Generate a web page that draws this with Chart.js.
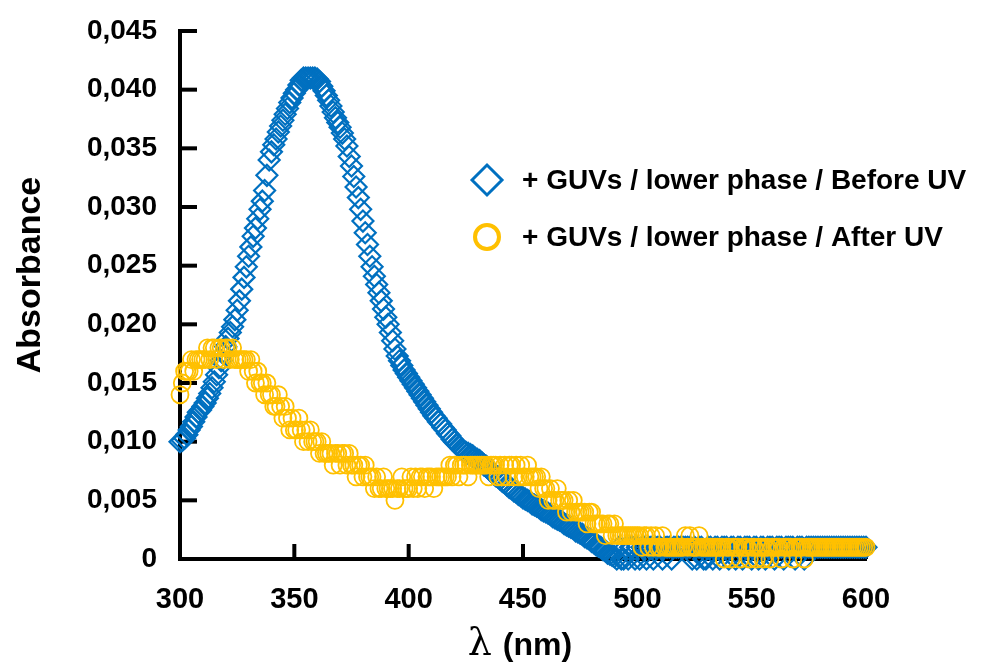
<!DOCTYPE html>
<html><head><meta charset="utf-8">
<script src="https://cdn.jsdelivr.net/npm/chart.js@4.4.1/dist/chart.umd.min.js"></script>
<style>html,body{margin:0;padding:0;background:#fff;}#wrap{width:995px;height:670px;}</style>
</head><body><div id="wrap"><canvas id="c" width="995" height="670"></canvas></div>
<script>
// ---- data ----
const wavelengths = [
300,301,302,303,304,305,306,307,308,309,310,311,312,313,314,315,316,317,318,319,
320,321,322,323,324,325,326,327,328,329,330,331,332,333,334,335,336,337,338,339,
340,341,342,343,344,345,346,347,348,349,350,351,352,353,354,355,356,357,358,359,
360,361,362,363,364,365,366,367,368,369,370,371,372,373,374,375,376,377,378,379,
380,381,382,383,384,385,386,387,388,389,390,391,392,393,394,395,396,397,398,399,
400,401,402,403,404,405,406,407,408,409,410,411,412,413,414,415,416,417,418,419,
420,421,422,423,424,425,426,427,428,429,430,431,432,433,434,435,436,437,438,439,
440,441,442,443,444,445,446,447,448,449,450,451,452,453,454,455,456,457,458,459,
460,461,462,463,464,465,466,467,468,469,470,471,472,473,474,475,476,477,478,479,
480,481,482,483,484,485,486,487,488,489,490,491,492,493,494,495,496,497,498,499,
500,501,502,503,504,505,506,507,508,509,510,511,512,513,514,515,516,517,518,519,
520,521,522,523,524,525,526,527,528,529,530,531,532,533,534,535,536,537,538,539,
540,541,542,543,544,545,546,547,548,549,550,551,552,553,554,555,556,557,558,559,
560,561,562,563,564,565,566,567,568,569,570,571,572,573,574,575,576,577,578,579,
580,581,582,583,584,585,586,587,588,589,590,591,592,593,594,595,596,597,598,599,
600];

const beforeUV = [
.0100,.0101,.0103,.0106,.0110,.0113,.0117,.0121,.0125,.0127,
.0130,.0133,.0137,.0141,.0146,.0151,.0157,.0163,.0169,.0175,
.0181,.0188,.0193,.0198,.0204,.0212,.0220,.0230,.0240,.0249,
.0258,.0266,.0275,.0282,.0290,.0298,.0305,.0314,.0327,.0340,
.0347,.0353,.0358,.0364,.0369,.0374,.0379,.0384,.0389,.0393,
.0397,.0400,.0404,.0408,.0410,.0410,.0410,.0410,.0410,.0410,
.0409,.0407,.0403,.0399,.0395,.0391,.0386,.0381,.0376,.0372,
.0368,.0363,.0358,.0352,.0343,.0335,.0326,.0317,.0308,.0298,
.0288,.0278,.0268,.0258,.0249,.0241,.0234,.0227,.0220,.0213,
.0206,.0200,.0193,.0186,.0179,.0173,.0169,.0165,.0161,.0158,
.0155,.0152,.0149,.0146,.0143,.0140,.0137,.0134,.0131,.0128,
.0125,.0122,.0120,.0117,.0115,.0112,.0110,.0107,.0105,.0102,
.0100,.0098,.0096,.0094,.0092,.0091,.0090,.0089,.0088,.0086,
.0085,.0084,.0082,.0080,.0079,.0077,.0075,.0073,.0071,.0070,
.0068,.0066,.0065,.0063,.0061,.0060,.0058,.0057,.0055,.0054,
.0052,.0051,.0050,.0049,.0047,.0046,.0045,.0044,.0042,.0041,
.0040,.0039,.0038,.0036,.0035,.0034,.0033,.0032,.0030,.0029,
.0028,.0027,.0026,.0024,.0023,.0022,.0021,.0019,.0018,.0017,
.0015,.0014,.0012,.0011,.0010,.0008,.0007,.0005,.0004,.0003,
.0002,.0000,.0010,.0000,.0000,.0010,.0000,.0010,.0010,.0000,
.0010,.0000,.0010,.0010,.0000,.0010,.0010,.0000,.0010,.0010,
.0010,.0000,.0010,.0010,.0010,.0000,.0010,.0010,.0010,.0010,
.0010,.0010,.0010,.0010,.0000,.0010,.0000,.0010,.0010,.0000,
.0000,.0010,.0010,.0000,.0010,.0010,.0000,.0010,.0010,.0010,
.0000,.0010,.0010,.0000,.0010,.0010,.0000,.0010,.0010,.0010,
.0000,.0010,.0010,.0000,.0010,.0010,.0000,.0010,.0010,.0010,
.0000,.0010,.0010,.0010,.0000,.0010,.0010,.0010,.0010,.0000,
.0010,.0010,.0010,.0000,.0010,.0010,.0010,.0010,.0010,.0010,
.0010,.0010,.0010,.0010,.0010,.0010,.0010,.0010,.0010,.0010,
.0010,.0010,.0010,.0010,.0010,.0010,.0010,.0010,.0010,.0010,
.0010];

const afterUV = [
.014,.015,.016,.016,.016,.017,.016,.017,.017,.017,
.017,.017,.018,.017,.018,.018,.017,.018,.018,.017,
.018,.018,.017,.018,.017,.017,.017,.017,.017,.017,
.016,.017,.016,.015,.016,.015,.015,.014,.015,.014,
.014,.013,.013,.014,.013,.012,.013,.012,.011,.012,
.011,.011,.012,.011,.010,.011,.010,.011,.010,.010,
.010,.009,.010,.009,.009,.009,.009,.008,.009,.009,
.008,.009,.009,.008,.009,.008,.008,.007,.008,.008,
.007,.008,.007,.007,.007,.006,.007,.006,.006,.007,
.006,.006,.006,.006,.005,.006,.006,.007,.006,.006,
.006,.007,.006,.007,.006,.007,.007,.006,.007,.007,
.007,.006,.007,.007,.007,.007,.007,.007,.008,.007,
.008,.008,.007,.008,.008,.008,.007,.008,.008,.008,
.008,.008,.008,.008,.008,.007,.008,.008,.008,.007,
.008,.007,.008,.007,.008,.008,.007,.008,.007,.008,
.007,.007,.008,.007,.007,.007,.007,.006,.007,.006,
.006,.005,.006,.005,.005,.006,.005,.005,.005,.004,
.005,.004,.005,.004,.004,.004,.004,.004,.003,.004,
.004,.003,.003,.003,.003,.003,.002,.003,.003,.002,
.003,.002,.002,.002,.002,.002,.002,.002,.002,.002,
.002,.002,.001,.002,.002,.001,.002,.001,.002,.001,
.001,.002,.001,.001,.001,.001,.001,.001,.001,.001,
.001,.002,.001,.002,.001,.001,.001,.002,.001,.001,
.001,.001,.001,.001,.001,.001,.001,.001,.000,.001,
.001,.000,.001,.001,.001,.000,.001,.001,.001,.000,
.001,.001,.000,.001,.001,.000,.001,.001,.000,.001,
.001,.001,.001,.000,.001,.001,.001,.001,.000,.001,
.001,.001,.001,.000,.001,.001,.001,.001,.001,.001,
.001,.001,.001,.001,.001,.001,.001,.001,.001,.001,
.001,.001,.001,.001,.001,.001,.001,.001,.001,.001,
.001];

const xTickValues = [300, 350, 400, 450, 500, 550, 600];
const yTickValues = [0, 0.005, 0.010, 0.015, 0.020, 0.025, 0.030, 0.035, 0.040, 0.045];
const seriesNames = ['+ GUVs / lower phase / Before UV', '+ GUVs / lower phase / After UV'];
const yTitle = 'Absorbance';
const xTitleSymbol = 'λ';
const xTitleUnit = ' (nm)';

// ---- styles ----
const BLUE = '#0070C0';
const GOLD = '#FFC000';
const SANS = '"Liberation Sans", Arial, Helvetica, sans-serif';
const NARROW = '"Liberation Sans Narrow", "Arial Narrow", "Liberation Sans", sans-serif';

const toPoints = (xs, ys) => xs.map((x, i) => ({x: x, y: ys[i]}));

const inwardTicks = {
  id: 'inwardTicks',
  beforeDatasetsDraw(chart) {
    const ctx = chart.ctx, xs = chart.scales.x, ys = chart.scales.y;
    const left = chart.chartArea.left, bottom = chart.chartArea.bottom;
    ctx.save();
    ctx.fillStyle = '#000';
    yTickValues.forEach(v => {
      if (v === 0) return;
      const py = ys.getPixelForValue(v);
      ctx.fillRect(left, py - 2, 17, 4);
    });
    xTickValues.forEach(v => {
      if (v === xs.min) return;
      const px = xs.getPixelForValue(v);
      ctx.fillRect(px - 2, bottom - 15, 4, 15);
    });
    ctx.restore();
  }
};

const titlesAndLegend = {
  id: 'titlesAndLegend',
  afterDraw(chart) {
    const ctx = chart.ctx;
    const ca = chart.chartArea;
    ctx.save();
    // Y title
    ctx.fillStyle = '#000';
    ctx.font = 'bold 34px ' + SANS;
    ctx.textAlign = 'center';
    ctx.textBaseline = 'middle';
    ctx.translate(31, 275);
    ctx.rotate(-Math.PI / 2);
    ctx.fillText(yTitle, 0, 0);
    ctx.restore();

    // X title
    ctx.save();
    ctx.fillStyle = '#000';
    ctx.textBaseline = 'alphabetic';
    ctx.textAlign = 'left';
    const fSym = '38px "DejaVu Serif", "Liberation Serif", serif';
    const fUnit = 'bold 32px ' + SANS;
    ctx.font = fSym; const w1 = ctx.measureText(xTitleSymbol).width;
    ctx.font = fUnit; const w2 = ctx.measureText(xTitleUnit).width;
    const cx = (ca.left + ca.right) / 2 - 4;
    const x0 = cx - (w1 + w2) / 2;
    ctx.font = fSym; ctx.fillText(xTitleSymbol, x0, 655);
    ctx.font = fUnit; ctx.fillText(xTitleUnit, x0 + w1 + 2, 655);
    ctx.restore();

    // Legend
    const items = [
      {ds: chart.data.datasets[0], y: 180, r: 15, lw: 3},
      {ds: chart.data.datasets[1], y: 237, r: 12, lw: 4}
    ];
    items.forEach((it, i) => {
      ctx.save();
      ctx.strokeStyle = it.ds.borderColor;
      ctx.fillStyle = 'rgba(0,0,0,0)';
      ctx.lineWidth = it.lw;
      Chart.helpers.drawPoint(ctx, {pointStyle: it.ds.pointStyle, radius: it.r, borderWidth: it.lw, rotation: 0}, 487, it.y);
      ctx.restore();
      ctx.save();
      ctx.fillStyle = '#000';
      ctx.font = 'bold 28px ' + SANS;
      ctx.textAlign = 'left';
      ctx.textBaseline = 'middle';
      ctx.fillText(seriesNames[i], 522, it.y + 1);
      ctx.restore();
    });
  }
};

new Chart(document.getElementById('c'), {
  type: 'scatter',
  data: {
    datasets: [
      {
        label: seriesNames[0],
        data: toPoints(wavelengths, beforeUV),
        pointStyle: 'rectRot',
        pointRadius: 10.5,
        pointBorderWidth: 2.2,
        borderColor: BLUE,
        pointBorderColor: BLUE,
        pointBackgroundColor: 'rgba(0,0,0,0)',
        backgroundColor: 'rgba(0,0,0,0)',
        showLine: false,
        clip: false,
        order: 2
      },
      {
        label: seriesNames[1],
        data: toPoints(wavelengths, afterUV),
        pointStyle: 'circle',
        pointRadius: 8.5,
        pointBorderWidth: 1.8,
        borderColor: GOLD,
        pointBorderColor: GOLD,
        pointBackgroundColor: 'rgba(0,0,0,0)',
        backgroundColor: 'rgba(0,0,0,0)',
        showLine: false,
        clip: false,
        order: 1
      }
    ]
  },
  options: {
    responsive: false,
    devicePixelRatio: 1,
    animation: false,
    events: [],
    layout: {autoPadding: false, padding: {top: 31, right: 129, left: 0, bottom: 0}},
    plugins: {legend: {display: false}, tooltip: {enabled: false}, title: {display: false}},
    scales: {
      x: {
        type: 'linear', position: 'bottom', min: 300, max: 600,
        afterBuildTicks: s => { s.ticks = xTickValues.map(v => ({value: v})); },
        afterFit: s => { s.height = 111; s.paddingLeft = 0; s.paddingRight = 0; },
        grid: {display: false, drawTicks: false},
        border: {display: true, width: 4, color: '#000'},
        ticks: {color: '#000', padding: 24, maxRotation: 0, autoSkip: false,
                font: {family: NARROW, size: 29, weight: 'bold'},
                callback: v => String(v)}
      },
      y: {
        type: 'linear', position: 'left', min: 0, max: 0.045,
        afterBuildTicks: s => { s.ticks = yTickValues.map(v => ({value: v})); },
        afterFit: s => { s.width = 180; s.paddingTop = 0; s.paddingBottom = 0; },
        grid: {display: false, drawTicks: false},
        border: {display: true, width: 4, color: '#000'},
        ticks: {color: '#000', padding: 23, autoSkip: false,
                font: {family: SANS, size: 28, weight: 'bold'},
                callback: v => v === 0 ? '0' : v.toFixed(3).replace('.', ',')}
      }
    }
  },
  plugins: [inwardTicks, titlesAndLegend]
});
</script></body></html>
